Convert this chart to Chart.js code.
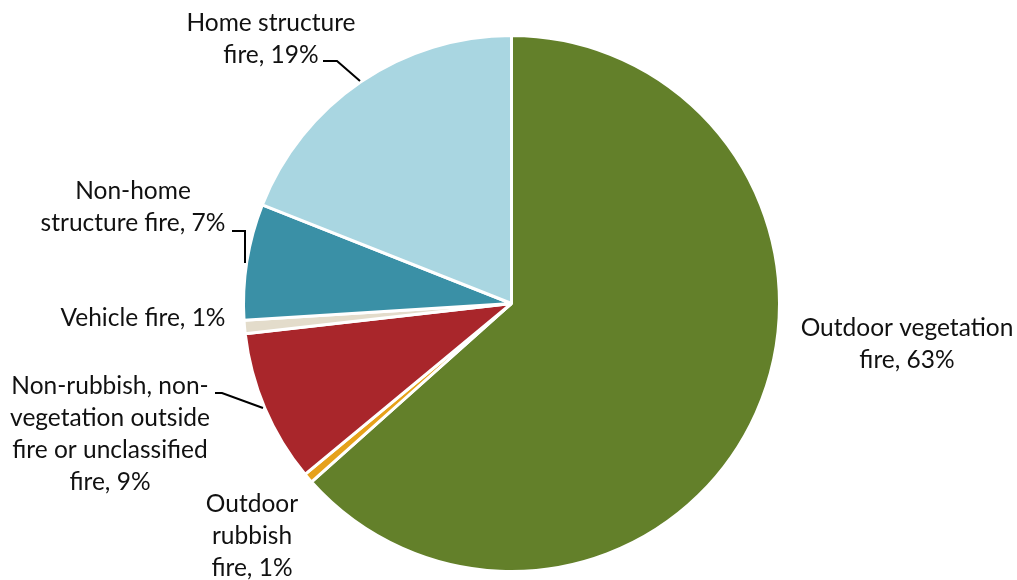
<!DOCTYPE html>
<html>
<head>
<meta charset="utf-8">
<script src="https://cdn.jsdelivr.net/npm/chart.js@4.4.0/dist/chart.umd.min.js"></script>
<style>
  html, body { margin: 0; padding: 0; background: #fff; }
  #wrap { width: 1017px; height: 580px; position: relative; }
</style>
</head>
<body>
<div id="wrap"><canvas id="fireChart"></canvas></div>
<script>
// ── DATA ──────────────────────────────────────────────────────────────
const categories = [
  'Outdoor vegetation fire',
  'Outdoor rubbish fire',
  'Non-rubbish, non-vegetation outside fire or unclassified fire',
  'Vehicle fire',
  'Non-home structure fire',
  'Home structure fire'
];
const shares = [63.4, 0.6, 9.2, 0.8, 7.0, 19.0];
const shareLabels = ['63%', '1%', '9%', '1%', '7%', '19%'];
const sliceColors = ['#63802a', '#e6a11a', '#a9262b', '#e3dccb', '#3a90a6', '#a9d6e1'];

// label text lines as shown on the chart
const labelLines = [
  ['Outdoor vegetation', 'fire, ' + shareLabels[0]],
  ['Outdoor', 'rubbish', 'fire, ' + shareLabels[1]],
  ['Non-rubbish, non-', 'vegetation outside', 'fire or unclassified', 'fire, ' + shareLabels[2]],
  ['Vehicle fire, ' + shareLabels[3]],
  ['Non-home', 'structure fire, ' + shareLabels[4]],
  ['Home structure', 'fire, ' + shareLabels[5]]
];

// ── LAYOUT (label placement, leader lines) ────────────────────────────
const labelPos = [
  { x: 907, y: 328 },
  { x: 252, y: 504 },
  { x: 110, y: 386 },
  { x: 143, y: 318 },
  { x: 133, y: 191 },
  { x: 271, y: 23 }
];
const leaders = [
  null,
  null,
  [[215, 393], [222, 393], [263, 408]],
  null,
  [[232, 231], [245, 231], [245, 263]],
  [[323, 61], [337, 61], [360, 81]]
];

const FONT = "24.5px Lato, 'Liberation Sans', sans-serif";
const LINE_H = 32;

const labelPlugin = {
  id: 'sliceLabels',
  afterDraw(chart) {
    const ctx = chart.ctx;
    ctx.save();
    ctx.strokeStyle = '#000';
    ctx.lineWidth = 2;
    leaders.forEach(pts => {
      if (!pts) return;
      ctx.beginPath();
      ctx.moveTo(pts[0][0], pts[0][1]);
      for (let i = 1; i < pts.length; i++) ctx.lineTo(pts[i][0], pts[i][1]);
      ctx.stroke();
    });
    ctx.fillStyle = '#111';
    ctx.font = FONT;
    ctx.textAlign = 'center';
    ctx.textBaseline = 'middle';
    labelLines.forEach((lines, i) => {
      const p = labelPos[i];
      lines.forEach((t, j) => ctx.fillText(t, p.x, p.y + j * LINE_H));
    });
    ctx.restore();
  }
};

new Chart(document.getElementById('fireChart'), {
  type: 'pie',
  data: {
    labels: categories,
    datasets: [{
      data: shares,
      backgroundColor: sliceColors,
      borderColor: '#ffffff',
      borderWidth: 3
    }]
  },
  options: {
    responsive: true,
    maintainAspectRatio: false,
    animation: false,
    layout: { padding: { top: 34, bottom: 7, left: 6, right: 0 } },
    plugins: {
      legend: { display: false },
      tooltip: { enabled: false }
    }
  },
  plugins: [labelPlugin]
});
</script>
</body>
</html>
